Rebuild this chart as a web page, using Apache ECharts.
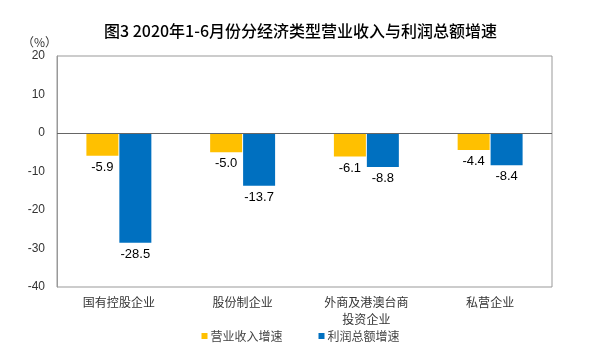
<!DOCTYPE html>
<html><head><meta charset="utf-8">
<script src="https://cdn.jsdelivr.net/npm/echarts@6/dist/echarts.min.js"></script>
<style>html,body{margin:0;padding:0;background:#fff}#c{width:601px;height:358px}</style>
</head><body><div id="c"></div>
<script>
const categories = ['国有控股企业', '股份制企业', '外商及港澳台商\n投资企业', '私营企业'];
const revenueGrowth = [-5.9, -5.0, -6.1, -4.4];
const profitGrowth = [-28.5, -13.7, -8.8, -8.4];
const seriesNames = ['营业收入增速', '利润总额增速'];
const yTicks = {min: -40, max: 20, interval: 10};

const chart = echarts.init(document.getElementById('c'));
const cjk = '"Noto Sans CJK SC", sans-serif';
const lbl = {show: true, position: 'bottom', distance: 5, color: '#000', fontSize: 13,
  fontFamily: '"Liberation Sans", Arial, sans-serif', formatter: p => p.value.toFixed(1)};
chart.setOption({
  animation: false,
  title: {text: '图3 2020年1-6月份分经济类型营业收入与利润总额增速', left: 'center', top: 18,
    textStyle: {fontSize: 16, fontWeight: 500, color: '#000', fontFamily: cjk}},
  grid: {left: 57, right: 49, top: 56, bottom: 71, show: true, borderColor: '#999', borderWidth: 1},
  legend: {bottom: 11, left: 'center', itemWidth: 6, itemHeight: 6, itemGap: 36,
    textStyle: {fontSize: 12, color: '#444', fontFamily: cjk, padding: [0, 0, 0, -2]}, icon: 'rect'},
  xAxis: {type: 'category', data: categories, position: 'bottom',
    axisLine: {show: false}, axisTick: {show: false},
    axisLabel: {fontSize: 12, color: '#333', fontFamily: cjk, margin: 7, lineHeight: 17}},
  yAxis: {type: 'value', min: yTicks.min, max: yTicks.max, interval: yTicks.interval,
    name: '（%）', nameLocation: 'end', nameGap: 8,
    nameTextStyle: {fontSize: 12, color: '#333', fontFamily: cjk, align: 'right', padding: [0, 0, 0, 0]},
    axisLine: {show: true, lineStyle: {color: '#999'}}, axisTick: {show: false}, splitLine: {show: false},
    axisLabel: {fontSize: 12, color: '#333', fontFamily: '"Liberation Sans", Arial, sans-serif', margin: 12}},
  series: [
    {name: seriesNames[0], type: 'bar', data: revenueGrowth, barWidth: 32, barGap: '3%',
      itemStyle: {color: '#FFC000'}, label: lbl,
      markLine: {silent: true, symbol: 'none', label: {show: false}, lineStyle: {color: '#666', type: 'solid', width: 1}, data: [{yAxis: 0}]}},
    {name: seriesNames[1], type: 'bar', data: profitGrowth, barWidth: 32,
      itemStyle: {color: '#0070C0'}, label: lbl}
  ]
});
</script></body></html>
